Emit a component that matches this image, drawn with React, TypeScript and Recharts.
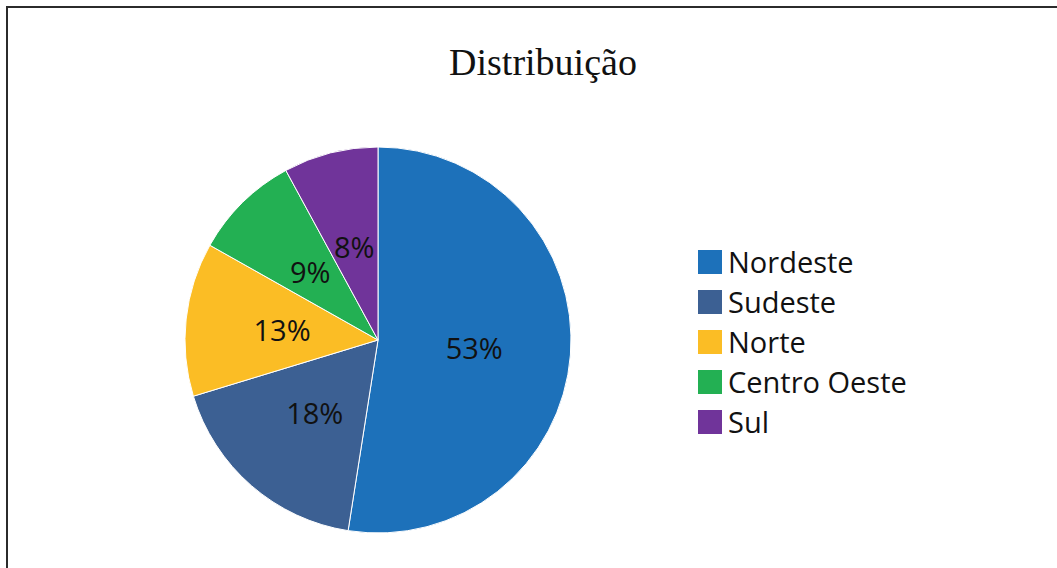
import { PieChart, Pie, Cell, Legend } from 'recharts';

const regions = ['Nordeste', 'Sudeste', 'Norte', 'Centro Oeste', 'Sul'];
const shares = [53, 18, 13, 9, 8];
const colors = ['#1D71BA', '#3C6093', '#FBBD25', '#23B053', '#70349A'];

const chartData = regions.map((name, i) => ({ name, value: shares[i], color: colors[i] }));

const RADIAN = Math.PI / 180;

function renderLabel(props: any) {
    const { cx, cy, midAngle, outerRadius, value } = props;
    const r = outerRadius * 0.5;
    const x = cx + r * Math.cos(-midAngle * RADIAN);
    const y = cy + r * Math.sin(-midAngle * RADIAN);
    return (
        <text
            x={x}
            y={y}
            fill="#111"
            textAnchor="middle"
            dominantBaseline="central"
            style={{ fontFamily: '"Open Sans", sans-serif', fontSize: 29 }}
        >
            {`${value}%`}
        </text>
    );
}

function LegendList() {
    return (
        <div style={{ fontFamily: '"Open Sans", sans-serif', fontSize: 29, color: '#111' }}>
            {chartData.map((entry) => (
                <div key={entry.name} style={{ display: 'flex', alignItems: 'center', height: 40 }}>
                    <div style={{ width: 24, height: 24, backgroundColor: entry.color, marginRight: 6 }} />
                    <span style={{ lineHeight: '40px' }}>{entry.name}</span>
                </div>
            ))}
        </div>
    );
}

export default function App() {
    return (
        <div style={{ position: 'absolute', left: 0, top: 0, width: 1057, height: 568, overflow: 'hidden', background: '#fff' }}>
            <svg width={1057} height={568} style={{ position: 'absolute', left: 0, top: 0 }}>
                <path d="M7 568 L7 7 L1057 7" fill="none" stroke="#2b2b2b" strokeWidth={2} />
            </svg>

            <div style={{ position: 'absolute', left: 0, top: 0 }}>
                <PieChart width={1057} height={568} margin={{ top: 0, right: 0, bottom: 0, left: 0 }}>
                    <Pie
                        data={chartData}
                        dataKey="value"
                        nameKey="name"
                        cx={378}
                        cy={340}
                        outerRadius={193}
                        startAngle={90}
                        endAngle={-270}
                        label={renderLabel}
                        labelLine={false}
                        isAnimationActive={false}
                    >
                        {chartData.map((entry, index) => (
                            <Cell key={`cell-${index}`} fill={entry.color} stroke="#ffffff" strokeWidth={1} />
                        ))}
                    </Pie>
                    <Legend
                        content={() => <LegendList />}
                        wrapperStyle={{ left: 698, top: 242, width: 'auto', bottom: 'auto', right: 'auto' }}
                    />
                </PieChart>
            </div>

            <div
                style={{
                    position: 'absolute',
                    left: 0,
                    width: 1086,
                    top: 40,
                    textAlign: 'center',
                    fontFamily: '"Liberation Serif", "Times New Roman", serif',
                    fontSize: 38,
                    color: '#111',
                    lineHeight: '44px',
                }}
            >
                Distribuição
            </div>
        </div>
    );
}
